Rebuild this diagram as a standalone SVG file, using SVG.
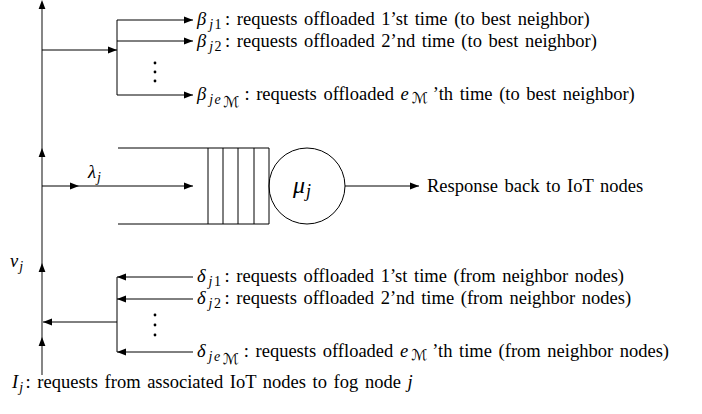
<svg xmlns="http://www.w3.org/2000/svg" width="702" height="414" viewBox="0 0 702 414">
  <style>
    .ln { stroke: #000; stroke-width: 1; fill: none; }
    .vl { stroke: #444; stroke-width: 1.3; fill: none; }
    .ah { fill: #000; }
    .t { font-family: "Liberation Serif", "Times New Roman", serif; font-size: 18.5px; fill: #000; word-spacing: 2px; }
    .mi { font-style: italic; }
    .sub { font-size: 14px; letter-spacing: 1.5px; }
    .ssub { font-size: 15px; }
    .cal { font-family: "DejaVu Sans", "Liberation Serif", serif; font-style: normal; }
    .dot { fill: #000; }
  </style>
  <defs>
    <marker id="arr" markerWidth="10" markerHeight="8" refX="9" refY="4" orient="auto" markerUnits="userSpaceOnUse">
      <path d="M0,0.6 L9,4 L0,7.4 Z" class="ah"/>
    </marker>
    <path id="up" d="M0,0 L-3.4,9 L3.4,9 Z"/>
  </defs>

  <!-- connectors -->
  <g id="connectors">
    <!-- main vertical flow v_j -->
    <line class="vl" x1="42" y1="375" x2="42" y2="4"/>
    <use href="#up" x="42" y="0"/>
    <use href="#up" x="42" y="148"/>
    <use href="#up" x="42" y="263"/>
    <use href="#up" x="42" y="337"/>

    <!-- offloading to best neighbor -->
    <line class="ln" x1="42" y1="50" x2="117" y2="50" marker-end="url(#arr)"/>
    <line class="ln" x1="117" y1="20" x2="117" y2="95"/>
    <line class="ln" x1="117" y1="20" x2="193" y2="20" marker-end="url(#arr)"/>
    <line class="ln" x1="117" y1="41" x2="193" y2="41" marker-end="url(#arr)"/>
    <line class="ln" x1="117" y1="95" x2="193" y2="95" marker-end="url(#arr)"/>
    <circle class="dot" cx="155" cy="63" r="1.4"/>
    <circle class="dot" cx="155" cy="72" r="1.4"/>
    <circle class="dot" cx="155" cy="81" r="1.4"/>

    <!-- arrivals into the queue -->
    <line class="ln" x1="42" y1="186" x2="79" y2="186" marker-end="url(#arr)"/>
    <line class="ln" x1="79" y1="186" x2="193" y2="186" marker-end="url(#arr)"/>

    <!-- departures -->
    <line class="ln" x1="345" y1="186" x2="419" y2="186" marker-end="url(#arr)"/>

    <!-- offloading from neighbor nodes -->
    <line class="ln" x1="193" y1="277" x2="117" y2="277" marker-end="url(#arr)"/>
    <line class="ln" x1="193" y1="299" x2="117" y2="299" marker-end="url(#arr)"/>
    <line class="ln" x1="193" y1="352" x2="117" y2="352" marker-end="url(#arr)"/>
    <line class="ln" x1="117" y1="277" x2="117" y2="352"/>
    <line class="ln" x1="117" y1="322" x2="43" y2="322" marker-end="url(#arr)"/>
    <circle class="dot" cx="155" cy="315" r="1.4"/>
    <circle class="dot" cx="155" cy="325" r="1.4"/>
    <circle class="dot" cx="155" cy="335" r="1.4"/>
  </g>

  <!-- queue buffer -->
  <g id="queue">
    <line class="ln" x1="118" y1="148" x2="269" y2="148"/>
    <line class="ln" x1="118" y1="224" x2="269" y2="224"/>
    <line class="ln" x1="208" y1="148" x2="208" y2="224"/>
    <line class="ln" x1="223" y1="148" x2="223" y2="224"/>
    <line class="ln" x1="238" y1="148" x2="238" y2="224"/>
    <line class="ln" x1="254" y1="148" x2="254" y2="224"/>
    <line class="ln" x1="269" y1="148" x2="269" y2="224"/>
  </g>

  <!-- server -->
  <g id="server">
    <circle class="ln" cx="307" cy="186" r="38"/>
    <text class="t" x="293" y="193"><tspan class="mi" font-size="24">μ</tspan><tspan class="mi" font-size="18" dx="1" dy="4">j</tspan></text>
  </g>

  <g id="label-lambda">
    <text class="t" x="88" y="178"><tspan class="mi">λ</tspan><tspan class="mi sub" dx="1" dy="4">j</tspan></text>
  </g>

  <g id="label-response">
    <text class="t" x="427" y="192">Response back to IoT nodes</text>
  </g>

  <g id="label-v">
    <text class="t" x="10" y="267"><tspan class="mi">v</tspan><tspan class="mi sub" dx="1" dy="4">j</tspan></text>
  </g>

  <g id="label-beta1">
    <text class="t" x="197" y="25"><tspan class="mi">β</tspan><tspan class="sub" dx="3" dy="4"><tspan class="mi">j</tspan>1</tspan><tspan dx="2" dy="-4">: requests offloaded 1’st time (to best neighbor)</tspan></text>
  </g>
  <g id="label-beta2">
    <text class="t" x="197" y="47"><tspan class="mi">β</tspan><tspan class="sub" dx="3" dy="4"><tspan class="mi">j</tspan>2</tspan><tspan dx="2" dy="-4">: requests offloaded 2’nd time (to best neighbor)</tspan></text>
  </g>
  <g id="label-betaM">
    <text class="t" x="197" y="100"><tspan class="mi">β</tspan><tspan class="mi sub" dx="3" dy="4">je</tspan><tspan class="cal ssub" dx="1" dy="3">ℳ</tspan><tspan dx="5" dy="-7">: requests offloaded </tspan><tspan class="mi">e</tspan><tspan class="cal ssub" dx="3" dy="3">ℳ</tspan><tspan dx="5" dy="-3">’th time (to best neighbor)</tspan></text>
  </g>

  <g id="label-delta1">
    <text class="t" x="197" y="282"><tspan class="mi">δ</tspan><tspan class="sub" dx="3" dy="4"><tspan class="mi">j</tspan>1</tspan><tspan dx="2" dy="-4">: requests offloaded 1’st time (from neighbor nodes)</tspan></text>
  </g>
  <g id="label-delta2">
    <text class="t" x="197" y="304"><tspan class="mi">δ</tspan><tspan class="sub" dx="3" dy="4"><tspan class="mi">j</tspan>2</tspan><tspan dx="2" dy="-4">: requests offloaded 2’nd time (from neighbor nodes)</tspan></text>
  </g>
  <g id="label-deltaM">
    <text class="t" x="197" y="357"><tspan class="mi">δ</tspan><tspan class="mi sub" dx="3" dy="4">je</tspan><tspan class="cal ssub" dx="1" dy="3">ℳ</tspan><tspan dx="5" dy="-7">: requests offloaded </tspan><tspan class="mi">e</tspan><tspan class="cal ssub" dx="3" dy="3">ℳ</tspan><tspan dx="5" dy="-3">’th time (from neighbor nodes)</tspan></text>
  </g>

  <g id="label-I">
    <text class="t" x="12" y="388"><tspan class="mi">I</tspan><tspan class="mi sub" dx="1" dy="4">j</tspan><tspan dx="1" dy="-4">: requests from associated IoT nodes to fog node </tspan><tspan class="mi">j</tspan></text>
  </g>
</svg>
